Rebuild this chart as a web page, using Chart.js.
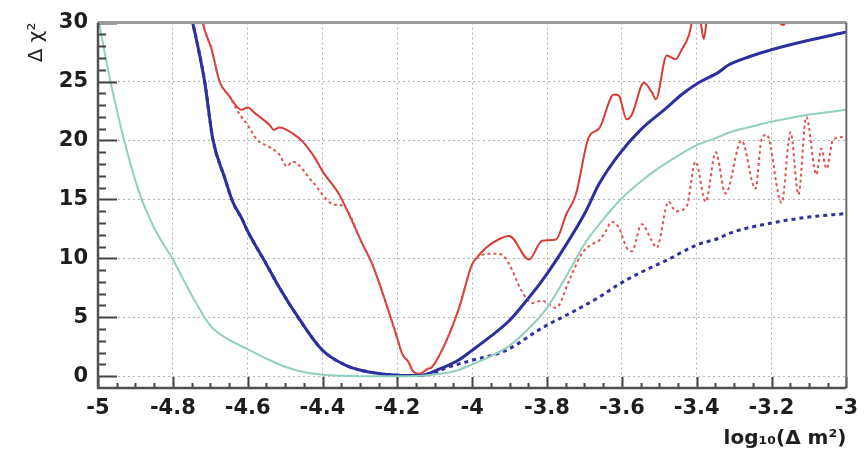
<!DOCTYPE html>
<html>
<head>
<meta charset="utf-8">
<script src="https://cdn.jsdelivr.net/npm/chart.js@4/dist/chart.umd.min.js"></script>
<style>
  body { margin: 0; background: #fff; }
</style>
</head>
<body>
<canvas id="chart" width="866" height="455"></canvas>
<script>
// axis ticks
var xTicks = [-5, -4.8, -4.6, -4.4, -4.2, -4, -3.8, -3.6, -3.4, -3.2, -3];
var yTicks = [0, 5, 10, 15, 20, 25, 30];

// light green curve
var greenX = [-5, -4.97, -4.93, -4.89, -4.85, -4.8, -4.75, -4.7, -4.65, -4.6, -4.55, -4.5, -4.45, -4.4, -4.35, -4.3, -4.25, -4.2, -4.15, -4.1, -4.05, -4.0, -3.95, -3.9, -3.85, -3.8, -3.75, -3.7, -3.65, -3.6, -3.55, -3.5, -3.45, -3.4, -3.35, -3.3, -3.25, -3.2, -3.15, -3.1, -3.05, -3.0];
var greenY = [30.5, 25.5, 20, 15.6, 12.6, 9.9, 6.9, 4.3, 3.1, 2.3, 1.5, 0.8, 0.35, 0.12, 0.03, 0, 0, 0, 0.02, 0.15, 0.4, 1.0, 1.7, 2.6, 4.0, 5.8, 8.4, 11.2, 13.3, 15.1, 16.5, 17.7, 18.7, 19.6, 20.2, 20.8, 21.2, 21.6, 21.9, 22.2, 22.4, 22.6];

// blue solid
var blueX = [-4.755, -4.747, -4.715, -4.693, -4.661, -4.64, -4.616, -4.6, -4.55, -4.515, -4.461, -4.4, -4.336, -4.275, -4.2, -4.141, -4.088, -4.035, -4.0, -3.95, -3.901, -3.85, -3.813, -3.75, -3.696, -3.661, -3.608, -3.55, -3.483, -3.44, -3.395, -3.341, -3.315, -3.26, -3.2, -3.1, -3.0];
var blueY = [31, 30, 25, 20.1, 16.8, 14.8, 13.4, 12.3, 9.5, 7.5, 4.8, 2.2, 0.9, 0.35, 0.08, 0.05, 0.6, 1.4, 2.2, 3.4, 4.7, 6.6, 8.1, 11.1, 14.0, 16.3, 18.8, 20.9, 22.7, 23.9, 24.9, 25.8, 26.4, 27.1, 27.7, 28.5, 29.2];

// blue dashed
var blueDashX = [-4.755, -4.747, -4.715, -4.693, -4.661, -4.64, -4.616, -4.6, -4.55, -4.515, -4.461, -4.4, -4.336, -4.275, -4.2, -4.141, -4.1, -4.07, -4.0, -3.909, -3.813, -3.723, -3.661, -3.608, -3.55, -3.483, -3.395, -3.341, -3.315, -3.2, -3.1, -3.0];
var blueDashY = [31, 30, 25, 20.1, 16.8, 14.8, 13.4, 12.3, 9.5, 7.5, 4.8, 2.2, 0.9, 0.35, 0.08, 0.05, 0.3, 0.7, 1.35, 2.2, 4.1, 5.6, 6.7, 7.8, 8.8, 9.8, 11.2, 11.7, 12.1, 13.0, 13.5, 13.8];

// red solid
var redX = [-4.725, -4.72, -4.696, -4.675, -4.65, -4.616, -4.6, -4.58, -4.541, -4.53, -4.515, -4.48, -4.453, -4.42, -4.4, -4.355, -4.336, -4.293, -4.267, -4.221, -4.2, -4.187, -4.17, -4.16, -4.141, -4.12, -4.107, -4.069, -4.035, -4.0, -3.989, -3.963, -3.93, -3.901, -3.848, -3.813, -3.776, -3.749, -3.723, -3.688, -3.661, -3.621, -3.608, -3.587, -3.573, -3.541, -3.52, -3.509, -3.48, -3.456, -3.44, -3.421, -3.413, -3.4, -3.39, -3.381, -3.37, -3.3, -3.22, -3.168, -3.14, -3.0];
var redY = [31, 30, 27.7, 25, 23.8, 22.6, 22.8, 22.3, 21.3, 20.9, 21.1, 20.6, 19.9, 18.5, 17.4, 15.4, 14.2, 11.2, 9.5, 5.3, 3.2, 1.9, 1.2, 0.5, 0.2, 0.6, 0.8, 3.0, 5.8, 9.5, 10.0, 10.9, 11.6, 11.9, 9.9, 11.5, 11.6, 13.7, 15.4, 20.3, 21.0, 23.9, 23.8, 21.8, 22.2, 24.9, 24.1, 23.5, 27.2, 26.9, 27.7, 28.9, 30, 31.5, 30.2, 28.6, 31, 34, 32, 29.8, 32, 35];

// red dashed
var redDashX = [-4.725, -4.72, -4.696, -4.675, -4.65, -4.621, -4.6, -4.576, -4.54, -4.515, -4.496, -4.48, -4.427, -4.373, -4.35, -4.336, -4.293, -4.267, -4.221, -4.2, -4.187, -4.17, -4.16, -4.141, -4.12, -4.107, -4.069, -4.035, -4.0, -3.989, -3.947, -3.92, -3.901, -3.867, -3.84, -3.813, -3.776, -3.741, -3.707, -3.68, -3.661, -3.643, -3.627, -3.608, -3.587, -3.573, -3.547, -3.52, -3.507, -3.475, -3.456, -3.427, -3.403, -3.376, -3.349, -3.323, -3.28, -3.243, -3.227, -3.213, -3.173, -3.149, -3.128, -3.107, -3.08, -3.067, -3.053, -3.035, -3.0];
var redDashY = [31, 30, 27.7, 25, 23.8, 22.2, 21.3, 20.1, 19.4, 18.8, 17.8, 18.2, 16.5, 14.6, 14.5, 14.2, 11.2, 9.5, 5.3, 3.2, 1.9, 1.2, 0.5, 0.2, 0.6, 0.8, 3.0, 5.8, 9.5, 10.0, 10.4, 10.3, 9.5, 7.2, 6.2, 6.4, 5.8, 8.1, 10.4, 11.2, 11.5, 12.3, 13.1, 12.6, 10.9, 10.6, 12.9, 11.5, 10.9, 14.8, 14.0, 14.4, 18.2, 14.8, 19.0, 15.5, 20.0, 15.9, 20.0, 20.5, 14.7, 20.7, 15.4, 22.0, 17.1, 19.3, 17.6, 20.1, 20.3];

function pts(xs, ys) {
  return xs.map(function (x, i) { return {x: x, y: ys[i]}; });
}

// inward ticks and the box around the plot
const frame = {
  id: 'frame',
  afterDraw(chart) {
    const {ctx, chartArea: a, scales: {x, y}} = chart;
    ctx.save();
    ctx.strokeStyle = '#444';
    ctx.beginPath();
    for (let v = 0; v <= 30; v++) {
      const py = Math.round(y.getPixelForValue(v)) + 0.5;
      const len = v % 5 === 0 ? 19 : 8;
      ctx.moveTo(a.left, py);
      ctx.lineTo(a.left + len, py);
    }
    for (let i = 0; i <= 40; i++) {
      const px = Math.round(x.getPixelForValue(-5 + i * 0.05)) + 0.5;
      const len = i % 4 === 0 ? 11 : 5;
      ctx.moveTo(px, a.bottom);
      ctx.lineTo(px, a.bottom - len);
    }
    ctx.lineWidth = 2;
    ctx.stroke();

    ctx.lineWidth = 3;
    ctx.strokeStyle = '#9a9a9a';
    ctx.beginPath();
    ctx.moveTo(a.left, a.top);
    ctx.lineTo(a.right, a.top);
    ctx.stroke();

    ctx.lineWidth = 2;
    ctx.strokeStyle = '#6a6a6a';
    ctx.beginPath();
    ctx.moveTo(a.right, a.top);
    ctx.lineTo(a.right, a.bottom);
    ctx.stroke();

    ctx.lineWidth = 2.5;
    ctx.strokeStyle = '#505050';
    ctx.beginPath();
    ctx.moveTo(a.left, a.top);
    ctx.lineTo(a.left, a.bottom);
    ctx.lineTo(a.right, a.bottom);
    ctx.stroke();
    ctx.restore();
  }
};

const tickFont = {family: 'DejaVu Sans', size: 21, weight: 'bold'};

new Chart('chart', {
  type: 'line',
  data: {
    datasets: [
      {label: 'green', data: pts(greenX, greenY), borderColor: '#92cfbd', borderWidth: 2},
      {label: 'blue dashed', data: pts(blueDashX, blueDashY), borderColor: '#2f329e', borderWidth: 3, borderDash: [4, 4]},
      {label: 'blue', data: pts(blueX, blueY), borderColor: '#2c2f9c', borderWidth: 3},
      {label: 'red dashed', data: pts(redDashX, redDashY), borderColor: '#dc5550', borderWidth: 2, borderDash: [3, 3]},
      {label: 'red', data: pts(redX, redY), borderColor: '#d63c35', borderWidth: 2}
    ]
  },
  options: {
    responsive: false,
    animation: false,
    parsing: false,
    layout: {padding: {top: 20, right: 17, left: 0, bottom: 0}},
    elements: {
      point: {radius: 0},
      line: {cubicInterpolationMode: 'monotone', fill: false}
    },
    plugins: {
      legend: {display: false},
      tooltip: {enabled: false}
    },
    scales: {
      x: {
        type: 'linear',
        min: -5,
        max: -3,
        afterBuildTicks: function (s) { s.ticks = xTicks.map(function (v) { return {value: v}; }); },
        afterFit: function (s) { s.height = 67; },
        grid: {color: '#b3b3b3', lineWidth: 1, drawTicks: false},
        border: {display: false, dash: [2, 3]},
        ticks: {
          font: tickFont,
          color: '#1e1e1e',
          padding: 8,
          autoSkip: false,
          maxRotation: 0,
          callback: function (v) { return String(Math.round(v * 10) / 10); }
        },
        title: {
          display: true,
          text: 'log\u2081\u2080(\u0394 m\u00b2)',
          align: 'end',
          color: '#1e1e1e',
          font: {family: 'DejaVu Sans', size: 20, weight: 'bold'},
          padding: {top: 0, bottom: 4}
        }
      },
      y: {
        type: 'linear',
        min: -1,
        max: 30,
        afterBuildTicks: function (s) { s.ticks = yTicks.map(function (v) { return {value: v}; }); },
        afterFit: function (s) { s.width = 98; },
        grid: {color: '#b3b3b3', lineWidth: 1, drawTicks: false},
        border: {display: false, dash: [2, 3]},
        ticks: {
          font: tickFont,
          color: '#1e1e1e',
          padding: 10,
          callback: function (v) { return String(v); }
        },
        title: {
          display: true,
          text: '\u0394 \u03c7\u00b2',
          align: 'end',
          color: '#1e1e1e',
          font: {family: 'DejaVu Sans', size: 20},
          padding: {top: 25, bottom: 0}
        }
      }
    }
  },
  plugins: [frame]
});
</script>
</body>
</html>
